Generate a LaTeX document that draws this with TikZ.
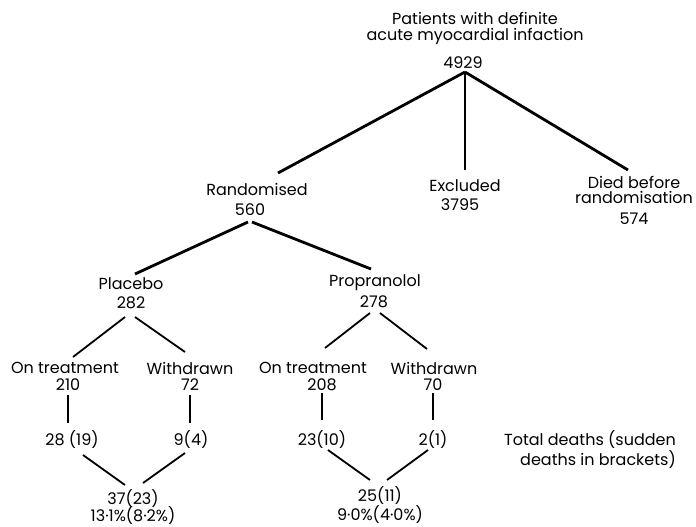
\documentclass[tikz,border=0pt]{standalone}
\usepackage{fontspec}
\setmainfont{Poppins}
\usepackage{tikz}
\usetikzlibrary{calc}

\begin{document}
\begin{tikzpicture}[
    x=0.5pt,y=-0.5pt,
    lbl/.style={inner sep=1pt, align=center, font=\fontsize{8}{8}\selectfont},
    heavy/.style={line width=1.4pt},
    light/.style={line width=0.9pt}
  ]
    \useasboundingbox (0,0) rectangle (696,526);

    % top level
    \node[lbl] (pat) at (475,28) {Patients with definite\\acute myocardial infaction};
    \node[lbl] (patN) at (463,63) {4929};
    \node[lbl] (rand) at (257,189) {Randomised};
    \node[lbl] (randN) at (250,210) {560};
    \node[lbl] (excl) at (465,186) {Excluded};
    \node[lbl] (exclN) at (460,205) {3795};
    \node[lbl, font=\fontsize{8}{6}\selectfont] (died) at (634,190) {Died before\\randomisation};
    \node[lbl] (diedN) at (634,219) {574};

    % treatment groups
    \node[lbl] (plac) at (131,284) {Placebo};
    \node[lbl] (placN) at (131,303) {282};
    \node[lbl] (prop) at (375,283) {Propranolol};
    \node[lbl] (propN) at (374,302) {278};

    \node[lbl] (plOn) at (65,368) {On treatment};
    \node[lbl] (plOnN) at (68,385) {210};
    \node[lbl] (plWd) at (190,368) {Withdrawn};
    \node[lbl] (plWdN) at (190,385) {72};
    \node[lbl] (prOn) at (313,368) {On treatment};
    \node[lbl] (prOnN) at (322,385) {208};
    \node[lbl] (prWd) at (434,368) {Withdrawn};
    \node[lbl] (prWdN) at (433,385) {70};

    % deaths
    \node[lbl] (plOnD) at (72,440) {28 (19)};
    \node[lbl] (plWdD) at (191,440) {9(4)};
    \node[lbl] (prOnD) at (322,440) {23(10)};
    \node[lbl] (prWdD) at (433,440) {2(1)};
    \node[lbl] (plTot) at (133,499) {37(23)};
    \node[lbl] (plPct) at (133,516) {13·1\%(8·2\%)};
    \node[lbl] (prTot) at (380,496) {25(11)};
    \node[lbl] (prPct) at (380,515) {9·0\%(4·0\%)};
    \node[lbl, align=right, font=\fontsize{8}{10}\selectfont] (legend) at (590,450)
      {Total deaths (sudden\\deaths in brackets)};

    \draw[heavy] ($(patN)+(2,9)$) -- ($(rand)+(21,-16)$);
    \draw[heavy] ($(patN)+(2,9)$) -- ($(excl)+(0,-16)$);
    \draw[heavy] ($(patN)+(2,9)$) -- ($(died)+(-6,-20)$);
    \draw[heavy] ($(randN)+(-2,12)$) -- ($(plac)+(4,-10)$);
    \draw[heavy] ($(randN)+(2,12)$) -- ($(prop)+(-4,-14)$);

    \draw[light] ($(placN)+(-6,14)$) -- ($(plOn)+(8,-11)$);
    \draw[light] ($(placN)+(4,14)$) -- ($(plWd)+(-5,-16)$);
    \draw[light] ($(propN)+(-4,11)$) -- ($(prOn)+(12,-20)$);
    \draw[light] ($(propN)+(6,11)$) -- ($(prWd)+(-7,-19)$);

    \draw[light] ($(plOnN)+(0,10)$) -- ($(plOnD)+(-4,-17)$);
    \draw[light] ($(plWdN)+(0,10)$) -- ($(plWdD)+(-1,-17)$);
    \draw[light] ($(prOnN)+(0,8)$) -- ($(prOnD)+(0,-20)$);
    \draw[light] ($(prWdN)+(0,8)$) -- ($(prWdD)+(0,-20)$);

    \draw[light] ($(plOnD)+(11,15)$) -- ($(plTot)+(-8,-14)$);
    \draw[light] ($(plWdD)+(-6,13)$) -- ($(plTot)+(10,-16)$);
    \draw[light] ($(prOnD)+(6,10)$) -- ($(prTot)+(-10,-16)$);
    \draw[light] ($(prWdD)+(-5,10)$) -- ($(prTot)+(7,-16)$);
  \end{tikzpicture}
\end{document}
